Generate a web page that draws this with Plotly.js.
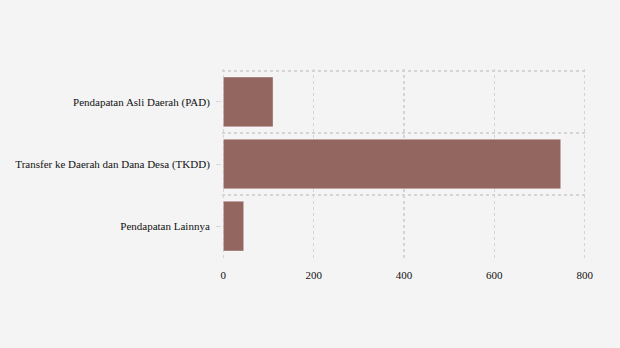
<!DOCTYPE html>
<html><head><meta charset="utf-8">
<script src="https://cdn.plot.ly/plotly-3.0.1.min.js"></script>
<style>html,body{margin:0;padding:0;background:#f4f4f4;}#chart{width:620px;height:348px;}</style>
</head><body><div id="chart"></div>
<script>
var categories = ["Pendapatan Asli Daerah (PAD)", "Transfer ke Daerah dan Dana Desa (TKDD)", "Pendapatan Lainnya"];
var values = [110, 747, 45];
var xTicks = [0, 200, 400, 600, 800];

function mkFont() { return {family: "Liberation Serif", size: 11, color: "#111"}; }
var trace = {
  type: "bar", orientation: "h",
  x: values, y: categories,
  marker: {color: "#946660", line: {color: "rgba(255,255,255,0.35)", width: 1}},
  hoverinfo: "none"
};
var tickTrace = {
  type: "bar", orientation: "h",
  x: values, y: categories, yaxis: "y2",
  marker: {color: "rgba(0,0,0,0)"}, hoverinfo: "none", showlegend: false
};
var layout = {
  width: 620, height: 348,
  paper_bgcolor: "#f4f4f4", plot_bgcolor: "#f4f4f4",
  margin: {l: 222, r: 34, t: 69, b: 89},
  showlegend: false,
  bargap: 0.2,
  font: mkFont(),
  xaxis: {
    range: [-3, 803], tickvals: xTicks, ticktext: xTicks.map(String),
    showgrid: true, gridcolor: "#d4d4d4", griddash: "3px,3px", gridwidth: 1.5,
    zeroline: false, showline: false, ticks: "outside", ticklen: 6, tickcolor: "rgba(0,0,0,0)",
    tickfont: mkFont()
  },
  yaxis: {
    type: "category", range: [2.53, -0.53],
    categoryorder: "array", categoryarray: categories,
    tickson: "boundaries", showgrid: true, gridcolor: "#d4d4d4", griddash: "3px,3px", gridwidth: 1.5,
    ticks: "", showticklabels: false, zeroline: false, showline: false
  },
  yaxis2: {
    type: "category", range: [2.53, -0.53], overlaying: "y", side: "left",
    categoryorder: "array", categoryarray: categories,
    showgrid: false, ticks: "outside", ticklen: 5, tickcolor: "#d8d8d8",
    ticklabelstandoff: 4,
    tickfont: mkFont(), zeroline: false, showline: false
  }
};
Plotly.newPlot("chart", [trace, tickTrace], layout, {displayModeBar: false, staticPlot: true});
</script></body></html>
